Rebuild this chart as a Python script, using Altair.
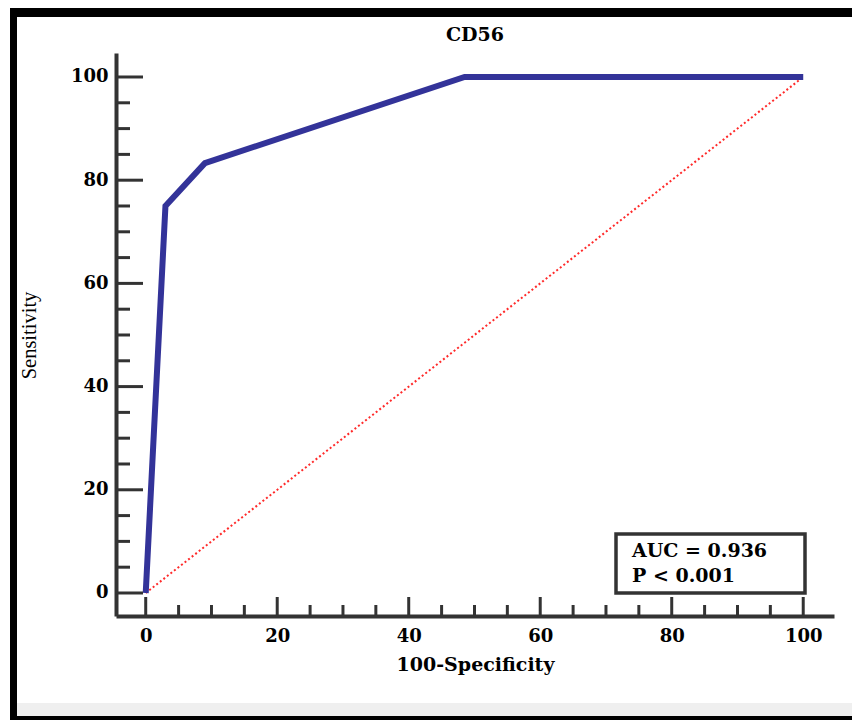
import altair as alt
import pandas as pd

# ---- data ----
fpr = [0, 3, 9, 48.5, 100]          # 100-Specificity
tpr = [0, 75, 83.3, 100, 100]       # Sensitivity
ref_x = [0, 100]
ref_y = [0, 100]
major_ticks = [0, 20, 40, 60, 80, 100]
minor_ticks = [5, 10, 15, 25, 30, 35, 45, 50, 55, 65, 70, 75, 85, 90, 95]
title_text = "CD56"
x_title = "100-Specificity"
y_title = "Sensitivity"
stats_lines = ["AUC = 0.936", "P < 0.001"]

W, H = 718, 563
PAD_L, PAD_T = 116, 53
AX = "#333333"
SERIF = "DejaVu Serif"

xs = alt.Scale(domain=[-4.52, 104.68], nice=False, zero=False)
ys = alt.Scale(domain=[-4.46, 104.65], nice=False, zero=False)

xaxis = alt.Axis(values=major_ticks, title=x_title, ticks=False, tickSize=0, grid=False,
                 domainColor=AX, domainWidth=4, labelPadding=11,
                 labelFont=SERIF, labelFontWeight="bold", labelFontSize=18, labelColor="black",
                 titleFont=SERIF, titleFontWeight="bold", titleFontSize=19, titleColor="black",
                 titleBaseline="alphabetic", titleY=54, titleX=W / 2, titleAlign="center")
yaxis = alt.Axis(values=major_ticks, title=y_title, ticks=False, tickSize=0, grid=False,
                 domainColor=AX, domainWidth=4, labelPadding=8,
                 labelFont=SERIF, labelFontWeight="bold", labelFontSize=18, labelColor="black",
                 titleFont="Liberation Serif", titleFontWeight="normal", titleFontSize=20.5,
                 titleColor="black", titleAngle=270, titleAlign="center", titleBaseline="bottom",
                 titleX=-77, titleY=282)

roc_df = pd.DataFrame({"x": fpr, "y": tpr})
ref_df = pd.DataFrame({"x": ref_x, "y": ref_y})
maj_df = pd.DataFrame({"x": major_ticks, "y": major_ticks})
min_df = pd.DataFrame({"x": minor_ticks, "y": minor_ticks})
one = pd.DataFrame({"a": [0]})

X = lambda: alt.X("x:Q", scale=xs, axis=xaxis)
Y = lambda: alt.Y("y:Q", scale=ys, axis=yaxis)

diag = alt.Chart(ref_df).mark_line(color="#ff2a2a", strokeWidth=2, strokeDash=[2, 2.5]).encode(x=X(), y=Y())
roc = alt.Chart(roc_df).mark_line(color="#333399", strokeWidth=6).encode(x=X(), y=Y())

xt_major = alt.Chart(maj_df).mark_rule(color=AX, strokeWidth=3).encode(
    x=X(), y=alt.value(H), y2=alt.value(H - 19))
xt_minor = alt.Chart(min_df).mark_rule(color=AX, strokeWidth=3).encode(
    x=X(), y=alt.value(H), y2=alt.value(H - 11))
yt_major = alt.Chart(maj_df).mark_rule(color=AX, strokeWidth=3).encode(
    y=Y(), x=alt.value(0), x2=alt.value(27))
yt_minor = alt.Chart(min_df).mark_rule(color=AX, strokeWidth=3).encode(
    y=Y(), x=alt.value(0), x2=alt.value(14))

box = alt.Chart(one).mark_rect(fill="white", stroke=AX, strokeWidth=3.5).encode(
    x=alt.value(500), x2=alt.value(689), y=alt.value(481), y2=alt.value(540))
t1 = alt.Chart(one).mark_text(font=SERIF, fontWeight="bold", fontSize=19, align="left",
                              baseline="alphabetic", color="black").encode(
    x=alt.value(516), y=alt.value(504), text=alt.value(stats_lines[0]))
t2 = alt.Chart(one).mark_text(font=SERIF, fontWeight="bold", fontSize=19, align="left",
                              baseline="alphabetic", color="black").encode(
    x=alt.value(516), y=alt.value(529), text=alt.value(stats_lines[1]))

title = alt.Chart(one).mark_text(font=SERIF, fontWeight="bold", fontSize=19, align="center",
                                 baseline="alphabetic", color="black").encode(
    x=alt.value(W / 2), y=alt.value(-12), text=alt.value(title_text))

# outer frame decoration
f_left = alt.Chart(one).mark_rect(color="black").encode(
    x=alt.value(-106), x2=alt.value(-99), y=alt.value(-45), y2=alt.value(667))
f_top = alt.Chart(one).mark_rect(color="black").encode(
    x=alt.value(-106), x2=alt.value(736), y=alt.value(-45), y2=alt.value(-36))
f_gray = alt.Chart(one).mark_rect(color="#efefef").encode(
    x=alt.value(-99), x2=alt.value(736), y=alt.value(650), y2=alt.value(663))
f_bot = alt.Chart(one).mark_rect(color="black").encode(
    x=alt.value(-106), x2=alt.value(736), y=alt.value(663), y2=alt.value(667))

chart = alt.layer(
    diag, roc, xt_major, xt_minor, yt_major, yt_minor, box, t1, t2, title,
    f_left, f_top, f_gray, f_bot
).properties(
    width=W, height=H,
    autosize=alt.AutoSizeParams(type="none"),
    padding={"left": PAD_L, "top": PAD_T, "right": 852 - PAD_L - W, "bottom": 720 - PAD_T - H},
    background="white",
).configure_view(stroke=None)

chart.save("out.html", embed_options={"renderer": "svg", "actions": False})
